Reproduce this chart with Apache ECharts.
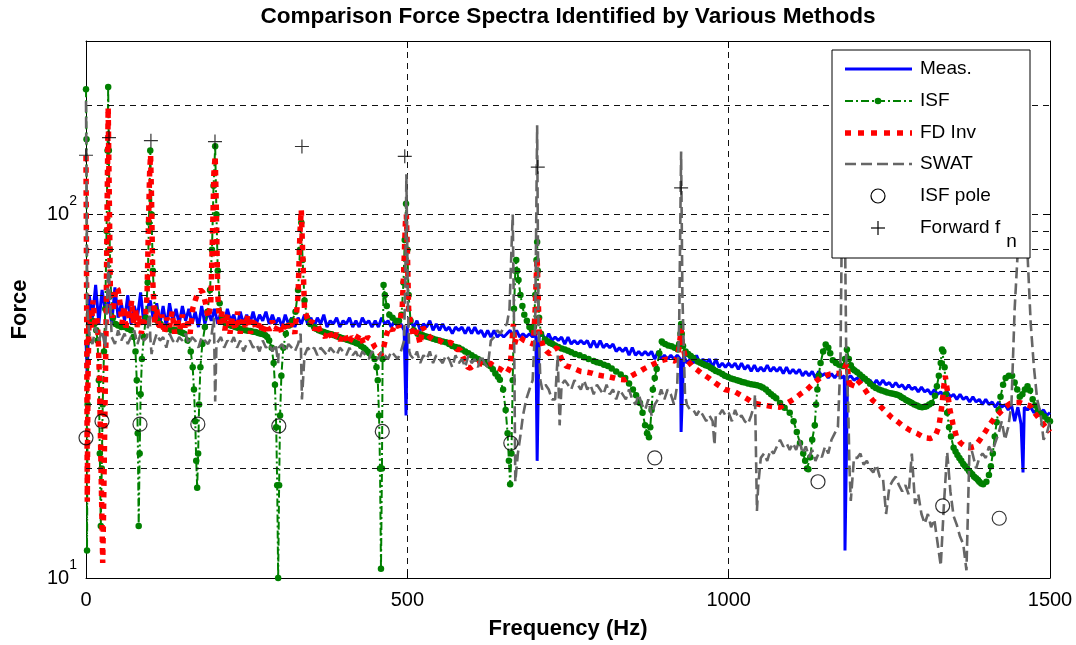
<!DOCTYPE html>
<html><head><meta charset="utf-8">
<script src="https://cdn.jsdelivr.net/npm/echarts@6/dist/echarts.min.js"></script>
<style>html,body{margin:0;padding:0;background:#fff}#c{width:1076px;height:645px}</style>
</head><body><div id="c"></div>
<script>
// ---------- data ----------
const chartTitle = 'Comparison Force Spectra Identified by Various Methods';
const xTicks = [0, 500, 1000, 1500];
const minorGridY = [20, 30, 40, 50, 60, 70, 80, 90, 200];
const freqStep = 5; // Hz spacing of the sampled spectra below

// Meas. (blue) sampled every 5 Hz from 0 to 1500
const measVals = [
  45, 60, 52, 64, 50, 62, 54, 58, 50, 63, 52, 57, 51, 60, 50, 56, 52, 61, 50, 55,
  58, 51, 57, 50, 56, 49, 57, 51, 55, 50, 56, 51, 55, 50, 54, 49, 56, 50, 54, 51,
  55, 50, 54, 50, 55, 51, 53, 49, 54, 50, 53, 50, 54, 50, 53, 51, 54, 50, 53, 50,
  52, 49, 53, 50, 52, 49, 52, 50, 53, 50, 52, 49, 52, 50, 53, 49, 51, 50, 52, 49,
  51, 50, 52, 49, 51, 49, 52, 50, 51, 49, 51, 49, 52, 50, 51, 49, 51, 49, 50, 48,
  49, 51, 49, 51, 48, 50, 49, 51, 48, 50, 48, 50, 48, 49, 47, 49, 48, 49, 47, 49,
  47, 49, 47, 48, 46, 48, 46, 48, 46, 47, 46, 47, 48, 46, 48, 46, 47, 46, 47, 46,
  47, 46, 47, 45, 47, 45, 46, 45, 46, 44, 46, 44, 45, 44, 45, 44, 45, 43, 45, 43,
  45, 43, 44, 43, 44, 42, 43, 42, 43, 41, 43, 41, 42, 41, 42, 41, 42, 40, 42, 40,
  41, 40, 41, 40, 41, 40, 41, 39, 40, 39, 41, 39, 40, 39, 40, 38, 40, 38, 39, 38,
  39, 38, 39, 37.5, 39, 37.5, 38.5, 37, 38.5, 37, 38, 37, 38.5, 37, 38, 37, 38, 36.5, 38, 36.5,
  37.5, 36.5, 37.5, 36, 37, 36, 37, 35.5, 37, 36, 36.5, 35.5, 36.5, 35.5, 36.5, 35.5, 36, 35.5, 36, 35,
  35.5, 34.5, 35.5, 34.5, 35, 34, 35, 34, 35, 34, 34.5, 33.5, 34.5, 33.5, 34, 33, 34, 33, 33.5, 32.5,
  33.5, 32.5, 33, 32, 33, 32, 32.5, 31.5, 32.5, 31.5, 32, 31, 32, 31, 31.5, 30.5, 31.5, 30.5, 31, 30,
  31, 30, 30.5, 29.5, 30.5, 29.5, 30, 29, 30, 27, 29.5, 26.5, 29.5, 29, 29.5, 28.5, 29, 28.5, 29, 28,
  28.5
];
const measDips = [[2, 36], [498, 28], [702, 21], [926, 25.2], [1181, 11.9], [1458, 19.5]];

// SWAT (gray) sampled every 5 Hz (null where the events list takes over)
const swatVals = [
  205, 47, 44, 49, 45, 48, 43, null, 46, 44, 48, 45, 47, 44, 46, 48, 44, 47, 45, 46,
  46, 44, 47, 45, 46, 43, 47, 45, 44, 46, 45, 47, 44, 46, 45, 43, 46, 45, 44, 46,
  null, 44, 46, 43, 45, 44, 46, 43, 45, 42, 44, 45, 43, 44, 42, 45, 43, 44, 42, 44,
  43, 44, 42, 44, 43, 42, 44, null, 41, 43, 42, 43, 41, 43, 42, 41, 43, 42, 41, 43,
  42, 41, 43, 41, 42, 40, 42, 41, 40, 42, 41, 40, 42, 41, 40, 42, 41, 40, 42, 45,
  null, 41, 40, 42, 39, 41, 40, 42, 39, 41, 40, 39, 41, 40, 38, 41, 39, 40, 38, 41,
  39, 40, 38, 41, 39, 38, 45, 46, 48, 47, 49, 50, null, null, null, null, null, 31, 33, 35,
  null, null, 33, 34, 33, 31, 31, null, 34, 35, 34, 33, 35, 34, 33, 35, 33, 34, 32, 34,
  33, 32, 34, 32, 33, 31, 33, 32, 31, 33, 31, 30, 32, 30, 29, 31, 28, 30, 31, 33,
  31, 33, 32, 30, 34, null, null, 30, 29, 29, 28, 29, 28, 27, 28, 27, 28, 28, 29, 28,
  28.5, 27, 29, 27.5, 28, 27, 26.5, 28, 30, null, 21.4, 22, 21, 22.5, 22, 23, 24, 23, 23.5, 22.5,
  23.5, 22.5, 24, 22, 23, 21.5, 22.5, 21, 22, 21.5, 23, 22, 24, 25, 26, null, null, null, 16.3, 21.4,
  21.4, 22, 20.5, 21, 20, 19.5, 20.5, 19, 18.9, 15, 17.8, 18.5, 19, 18, 17.3, 18, 17, 22, 16, 17,
  15, 14.1, 15, 13.8, 14.5, 12.5, 10.8, 16, 22.2, 17.3, 14.8, 14, 13, 12.4, 10.5, 23.6, 21.8, 20, 21.4, 22,
  21.4, 23, 22.2, 23.6, 25, 27, 24, 26, 30, 55, 80, 130, 130, 78, 50, 38, 31, 28.5, 24, 25,
  27
];
const swatEvents = [
  [1, 110], [2, 55], [35, 74], [99, 56], [102, 41.3], [199, 52], [201, 30.6], [203, 44],
  [299, 39], [334, 47], [336, 31], [497, 70], [498.5, 129], [501, 55], [503, 42],
  [659, 55], [662, 80], [664, 100], [666, 50], [668, 18.4], [672, 22], [676, 24.7], [680, 28],
  [699, 50], [702, 176], [704, 50], [707, 35], [734, 41], [737, 26.3],
  [923, 50], [926, 149], [928, 60], [932, 32], [978, 23.2],
  [1041, 32], [1044, 15.3], [1046, 18],
  [1174, 40], [1176, 90], [1178, 150], [1181, 90], [1183, 40], [1186, 30], [1188, 20]
];

// ISF (green) [Hz, force]
const isfData = [
  [0,221],[0.8,161],[1.6,11.9],[2.5,30],[4,45],[7,50],[10,51],[13,50],[16,48],[18,45],[20,35],[21.5,22],[23,13.9],
  [24.5,20],[26,30],[28,42],[30,55],[32,90],[33.5,150],[34.5,224],[35.5,150],[37,80],[39,60],[42,52],[46,50],
  [50,49.5],[55,49],[60,49],[65,48.5],[70,48],[74,46],[77,42],[79,35],[80.5,25],[82,13.9],[83.5,22],[85,32],
  [87,40],[90,46],[93,52],[96,65],[98,95],[100,150],[102,100],[104,70],[107,55],[111,51],[116,50],[121,49],
  [127,48.5],[133,48],[136,48.2],[140,48],[143,47.8],[147,47.5],[150,47.3],[153,47],[158,45],[163,42],[166,38],
  [168,33],[170,27],[171.5,21],[173,17.7],[174.5,22],[176,30],[178,38],[181,44],[185,49],[189,54],[193,62],
  [196,80],[198.5,120],[201,154],[203,100],[205,70],[208,57],[212,52],[215,51],[218,50],[221,49.8],[225,49.5],
  [228,49.3],[232,49],[236,48.8],[240,48.5],[244,48.3],[248,48],[252,47.9],[256,47.8],[260,47.6],[264,47.5],
  [268,47.2],[272,47],[276,46.8],[279,46.5],[282,46],[285,45],[289,43],[292,39],[294,34],[296,26],[297.5,18],
  [299,10],[300.5,18],[302,28],[304,36],[307,43],[311,47],[316,49.5],[321,51],[326,54],[330,62],[333,80],
  [335,95],[337,75],[340,58],[344,52],[349,50],[355,49],[358,48.5],[362,48],[366,47.7],[370,47.5],[374,47.2],
  [378,47],[382,46.8],[386,46.5],[390,46.2],[394,46],[398,45.7],[402,45.5],[406,45.2],[410,45],[414,44.7],
  [418,44.5],[421,44.2],[425,44],[428,43.5],[432,43],[435,42.5],[438,42],[441,41.5],[444,41],[449,40],[452,38],
  [454,35],[456,28],[457.5,20],[459,10.6],[460.5,20],[461.5,40],[463,64],[465,60],[468,56],[472,53],[477,52],
  [482,51],[487,51],[491,53],[494,65],[496,85],[498,107],[500,80],[502,60],[505,51],[510,48],[516,47],[520,46.8],
  [524,46.5],[528,46.2],[532,46],[536,45.8],[540,45.5],[545,45.2],[550,45],[555,44.7],[560,44.5],[565,44],
  [570,43.5],[575,43.2],[580,43],[585,42.5],[590,42],[595,41.5],[600,41],[605,40.5],[610,40],[615,39.6],
  [620,39.2],[625,38.8],[629,38.3],[633,37.5],[637,36.5],[641,35.8],[644,35.1],[649,33],[653,29],[656,25],
  [658,21],[660,18.1],[662,22],[664,35],[666,55],[668,70],[669.5,75],[671,70],[673,66],[676,60],[679,56],
  [682,53],[686,51],[690,49],[694,48],[697,49],[699,60],[701,75],[702,84],[703,70],[705,52],[708,47],[714,45.3],
  [718,44.8],[722,44.3],[726,44],[730,43.6],[735,43.2],[740,42.8],[745,42.5],[750,42.2],[755,41.8],[761,41.3],
  [768,41],[775,40.5],[782,40],[790,39.5],[795,39.2],[800,39],[806,38.6],[812,38.3],[818,37.7],[825,37],
  [832,36.3],[839,35.5],[845,34.3],[851,33],[856,31.8],[862,30.3],[866,28.5],[870,26.3],[873,25],[876,24.4],
  [878,26],[880,29],[882,33],[885,35.5],[888,37.6],[892,41.5],[896,44.7],[901,44],[906,43.6],[911,43.4],
  [916,43],[921,42.5],[923,44],[925,47],[926,50],[927,47],[929,43.5],[933,42],[937,41.3],[941,40.8],[945,40.3],
  [952,39.4],[956,39.1],[960,38.8],[964,38.5],[968,38.3],[972,37.9],[976,37.5],[980,37.1],[985,36.8],[990,36.4],
  [994,36],[999,35.7],[1004,35.4],[1008,35.2],[1013,35],[1017,34.8],[1021,34.6],[1025,34.5],[1030,34.3],
  [1035,34.1],[1040,34],[1044,33.9],[1049,33.7],[1053,33.4],[1058,33],[1062,32.5],[1066,32],[1070,31.6],
  [1074,31.2],[1080,30.3],[1087,29.4],[1095,28.5],[1101,27],[1106,25.2],[1111,23.5],[1116,22],[1119,21],
  [1122,20],[1124,19.9],[1127,21.5],[1130,24],[1134,26.3],[1136,30],[1138,33],[1140,36],[1143,39],[1147,42],
  [1151,43.9],[1155,43],[1158,41.5],[1162,39.7],[1167,39],[1172,38.6],[1178,38.3],[1181,40],[1184,42.5],
  [1187,40],[1190,38.5],[1193,37.6],[1196,37.2],[1200,36.8],[1204,36.3],[1208,35.8],[1212,35.3],[1216,34.8],
  [1220,34.2],[1225,33.7],[1229,33.3],[1234,33],[1238,32.8],[1243,32.6],[1247,32.4],[1252,32.2],[1256,32.1],
  [1259,32],[1262,31.9],[1266,31.7],[1269,31.4],[1272,31.2],[1276,30.9],[1279,30.7],[1282,30.5],[1285,30.3],
  [1289,30],[1293,29.8],[1297,29.6],[1301,29.5],[1305,29.6],[1308,29.7],[1312,30],[1316,30.3],[1321,31.7],
  [1324,33.7],[1327,36],[1330,39],[1332,42.5],[1334,42],[1336,38],[1338,32],[1340,28.5],[1343,26],[1346,24.5],
  [1350,22.8],[1353,22.3],[1356,21.8],[1359,21.4],[1362,21],[1365,20.6],[1368,20.3],[1371,20],[1374,19.7],
  [1376,19.5],[1379,19.3],[1382,19],[1385,18.8],[1388,18.6],[1390,18.4],[1393,18.2],[1396,18.1],[1401,18.4],
  [1405,19.2],[1408,20.3],[1411,22],[1414,24.5],[1417,26.8],[1420,29],[1423,31.5],[1427,34],[1431,35.5],
  [1436,36],[1441,36],[1445,34.5],[1449,33],[1453,31.5],[1457,32],[1461,33],[1465,33.7],[1469,32.8],[1473,31],
  [1477,29.8],[1481,28.9],[1486,28.3],[1491,27.8],[1496,27.3],[1500,27]
];

// FD Inv (red) [Hz, force]
const fdInvData = [
  [0,145],[1,60],[2,16.2],[3,35],[5,55],[8,48],[11,58],[14,50],[17,52],[19,46],[21,35],[23,22],[25,14],[26,11],
  [27,14],[29,25],[31,45],[33,110],[34.5,197],[36,120],[38,60],[41,52],[44,58],[47,63],[50,62],[53,57],[56,50],
  [59,56],[62,48],[65,55],[68,51],[71,58],[74,50],[77,55],[80,49],[83,53],[86,47],[89,52],[92,50],[95,60],
  [97,90],[99,130],[100.5,146],[102,110],[104,65],[107,50],[110,55],[114,48],[118,53],[122,47],[126,52],
  [130,49],[134,54],[138,47],[142,52],[146,48],[150,53],[154,49],[158,51],[162,47],[166,55],[170,58],[174,61],
  [178,62],[182,61],[186,57],[190,52],[194,56],[197,90],[199,130],[201,145],[203,100],[205,60],[208,50],
  [212,54],[216,48],[220,53],[224,47],[228,52],[232,48],[236,54],[240,47],[244,52],[248,49],[252,53],[256,47],
  [260,52],[265,48],[270,51],[275,47],[280,50],[285,48],[290,51],[295,48],[300,50],[305,47],[310,51],[315,48],
  [320,50],[325,47],[330,60],[333,90],[335,103],[337,80],[340,55],[344,52],[348,50],[352,51],[356,48],[360,50],
  [366,47],[372,46],[378,48],[384,45],[390,47],[396,45],[402,47],[408,44],[414,46],[420,45],[426,47],[432,44],
  [438,46],[444,45],[450,43],[455,42],[459,41],[463,43],[468,47],[472,49],[477,48],[482,50],[487,49],[492,55],
  [495,75],[497,95],[498.5,100],[500,80],[502,55],[505,50],[510,46],[515,48],[520,44],[524,49],[530,47],
  [535,46],[542,45],[550,45],[558,44],[566,44.5],[572,44],[577,42.5],[582,42.5],[588,40],[594,38],[598,37.8],
  [604,38.5],[612,39],[620,38.5],[629,39],[637,38],[644,37.6],[650,37],[655,36.6],[660,38],[663,45],[665,50],
  [667,44],[670,46],[675,46],[682,45],[689,44.5],[696,44],[699,55],[701,70],[702,76],[703,65],[705,48],
  [711,43.4],[717,42],[722,41.3],[728,42.5],[733,43],[740,40],[747,38.3],[754,38],[761,37.6],[770,37],
  [780,36.8],[787,36.6],[795,36.2],[803,36],[813,35.8],[822,35.5],[830,35.2],[839,35.1],[847,35.8],[855,36.5],
  [862,37],[868,37.6],[877,38.3],[886,39],[895,39.6],[904,40],[911,39.8],[917,39.5],[921,41],[924,45],
  [926,48.5],[928,44],[932,40.8],[937,39.5],[943,38.3],[950,37.5],[958,36.5],[969,35.5],[980,34.3],[994,33],
  [1010,32.5],[1021,31.7],[1030,31],[1038,30.3],[1049,30],[1059,29.8],[1070,29.6],[1080,29.5],[1090,30.2],
  [1101,31],[1111,32],[1122,33],[1132,34.3],[1142,35.5],[1150,36],[1158,36.4],[1168,36.5],[1178,36.6],
  [1181,38],[1184,39],[1187,35],[1189,33],[1193,34.5],[1199,35.2],[1205,34.3],[1212,33],[1218,31.8],
  [1225,30.7],[1235,29.8],[1246,28.5],[1254,27.6],[1262,27],[1270,26.3],[1282,25.5],[1293,25],[1305,24.3],
  [1314,24.2],[1321,24.5],[1327,26],[1332,30],[1335,34],[1337,36],[1340,33],[1344,29.2],[1349,26.5],
  [1355,24.3],[1361,23.5],[1368,23],[1375,22.8],[1383,23],[1391,24],[1399,25.2],[1406,26.4],[1414,27.6],
  [1422,28.5],[1430,29.5],[1438,30.2],[1446,30.4],[1453,30.4],[1461,30],[1469,29.8],[1476,28.5],[1484,27.3],
  [1492,26.2],[1500,25.2]
];

// markers
const isfPoles = [[0,24.3],[24.9,27],[84,26.5],[174,26.5],[300,26.2],[461,25.3],[661,23.5],[885,21.4],[1139,18.4],[1333,15.8],[1421,14.6]];
const forwardFn = [[0,145.5],[35.8,162.7],[101,159.6],[200.7,158.7],[336,153.8],[496,144.5],[703,135],[926,118.4]];

const legendNames = ['Meas.', 'ISF', 'FD Inv', 'SWAT', 'ISF pole', 'Forward f'];

// ---------- build ----------
function merge(vals, events) {
  const pts = [];
  vals.forEach((v, i) => { if (v !== null) pts.push([i * freqStep, v]); });
  events.forEach(p => pts.push(p));
  pts.sort((a, b) => a[0] - b[0]);
  return pts;
}
const FONT = "'Liberation Sans', Arial, Helvetica, sans-serif";
const measData = merge(measVals, measDips);
const swatData = merge(swatVals, swatEvents);
const isfSorted = isfData.slice().sort((a, b) => a[0] - b[0]);

const chart = echarts.init(document.getElementById('c'), null, {renderer: 'canvas'});

const axisCommonX = {
  type: 'value', min: 0, max: 1500, interval: 500,
  axisLine: {show: true, onZero: false, lineStyle: {color: '#000', width: 1}},
  axisTick: {show: true, inside: true, length: 7, lineStyle: {color: '#000'}}
};
const axisCommonY = {
  type: 'log', logBase: 10, min: 10, max: 300,
  axisLine: {show: true, onZero: false, lineStyle: {color: '#000', width: 1}},
  axisTick: {show: true, inside: true, length: 7, lineStyle: {color: '#000'}}
};
const gridDash = {color: '#111', width: 1, type: [6, 5]};

function yLabel(v) {
  const e = Math.round(Math.log10(v) * 1000) / 1000;
  if (Math.abs(e - Math.round(e)) < 1e-6) return '{b|10}{s|' + Math.round(e) + '}';
  return '';
}

const legendY = [69, 101, 133, 164, 196, 228];
const LX1 = 845, LX2 = 912, LTX = 920, LCX = 878;

const option = {
  animation: false,
  backgroundColor: '#fff',
  title: {
    text: chartTitle, left: 568, top: 5, textAlign: 'center', padding: 0,
    textStyle: {fontSize: 22.6, fontWeight: 'bold', color: '#000', fontFamily: FONT}
  },
  grid: {left: 86, right: 26, top: 41, bottom: 60, containLabel: false},
  xAxis: [
    Object.assign({}, axisCommonX, {
      position: 'bottom',
      axisLabel: {color: '#000', fontSize: 20, fontFamily: FONT, margin: 12,
        formatter: v => (xTicks.indexOf(v) >= 0 ? String(v) : '')},
      splitLine: {show: true, lineStyle: gridDash},
      name: 'Frequency (Hz)', nameLocation: 'middle', nameGap: 40,
      nameTextStyle: {fontSize: 22, fontWeight: 'bold', color: '#000', fontFamily: FONT}
    }),
    Object.assign({}, axisCommonX, {position: 'top', axisLabel: {show: false}, splitLine: {show: false}})
  ],
  yAxis: [
    Object.assign({}, axisCommonY, {
      position: 'left',
      axisLabel: {
        margin: 9, formatter: yLabel, color: '#000',
        rich: {
          b: {fontSize: 20, fontFamily: FONT, color: '#000'},
          s: {fontSize: 14, fontFamily: FONT, color: '#000', padding: [0, 0, 26, 0]}
        }
      },
      splitLine: {show: true, lineStyle: gridDash},
      name: 'Force', nameLocation: 'middle', nameGap: 55, nameRotate: 90,
      nameTextStyle: {fontSize: 22, fontWeight: 'bold', color: '#000', fontFamily: FONT}
    }),
    Object.assign({}, axisCommonY, {position: 'right', axisLabel: {show: false}, splitLine: {show: false}})
  ],
  series: [
    {
      name: 'grid', type: 'line', data: [], z: 1, silent: true, symbol: 'none',
      markLine: {
        silent: true, symbol: ['none', 'none'], label: {show: false}, animation: false,
        lineStyle: gridDash, emphasis: {disabled: true},
        data: minorGridY.map(v => ({yAxis: v}))
      }
    },
    {
      name: legendNames[0], type: 'line', data: measData, z: 2, symbol: 'none', silent: true,
      lineStyle: {color: '#0000ff', width: 3}, itemStyle: {color: '#0000ff'}
    },
    {
      name: legendNames[1], type: 'line', data: isfSorted, z: 3, symbol: 'circle', symbolSize: 6.5,
      showSymbol: true, silent: true,
      lineStyle: {color: '#008000', width: 2, type: [8, 3, 2, 3]}, itemStyle: {color: '#008000'}
    },
    {
      name: legendNames[2], type: 'line', data: fdInvData, z: 4, symbol: 'none', silent: true,
      lineStyle: {color: '#ff0000', width: 5.5, type: [5.5, 6], cap: 'butt'}, itemStyle: {color: '#ff0000'}
    },
    {
      name: legendNames[3], type: 'line', data: swatData, z: 5, symbol: 'none', silent: true,
      lineStyle: {color: '#666666', width: 2.6, type: [11, 5]}, itemStyle: {color: '#666666'}
    },
    {
      name: legendNames[4], type: 'scatter', data: isfPoles, z: 6, symbol: 'circle', symbolSize: 14, silent: true,
      itemStyle: {color: 'rgba(0,0,0,0)', borderColor: '#000', borderWidth: 1.2}
    },
    {
      name: legendNames[5], type: 'scatter', data: forwardFn, z: 7, symbol: 'path://M0,6L12,6M6,0L6,12',
      symbolSize: 14, silent: true,
      itemStyle: {color: 'none', borderColor: '#000', borderWidth: 1.2}
    }
  ],
  graphic: {
    elements: [
      {type: 'rect', z: 100, shape: {x: 832, y: 50, width: 198, height: 208}, style: {fill: '#fff', stroke: '#000', lineWidth: 1}},
      {type: 'line', z: 101, shape: {x1: LX1, y1: legendY[0], x2: LX2, y2: legendY[0]}, style: {stroke: '#0000ff', lineWidth: 3}},
      {type: 'line', z: 101, shape: {x1: LX1, y1: legendY[1], x2: LX2, y2: legendY[1]}, style: {stroke: '#008000', lineWidth: 2, lineDash: [8, 3, 2, 3]}},
      {type: 'circle', z: 102, shape: {cx: LCX, cy: legendY[1], r: 3.3}, style: {fill: '#008000'}},
      {type: 'line', z: 101, shape: {x1: LX1, y1: legendY[2], x2: LX2, y2: legendY[2]}, style: {stroke: '#ff0000', lineWidth: 5.5, lineDash: [6, 7]}},
      {type: 'line', z: 101, shape: {x1: LX1, y1: legendY[3], x2: LX2, y2: legendY[3]}, style: {stroke: '#666666', lineWidth: 2.6, lineDash: [11, 5]}},
      {type: 'circle', z: 101, shape: {cx: LCX, cy: legendY[4], r: 7}, style: {fill: 'none', stroke: '#000', lineWidth: 1.2}},
      {type: 'line', z: 101, shape: {x1: LCX - 7, y1: legendY[5], x2: LCX + 7, y2: legendY[5]}, style: {stroke: '#000', lineWidth: 1.2}},
      {type: 'line', z: 101, shape: {x1: LCX, y1: legendY[5] - 7, x2: LCX, y2: legendY[5] + 7}, style: {stroke: '#000', lineWidth: 1.2}},
      ...legendNames.slice(0, 5).map((t, i) => ({
        type: 'text', z: 101, x: LTX, y: legendY[i],
        style: {text: t, fill: '#000', font: '19px ' + FONT, verticalAlign: 'middle', align: 'left'}
      })),
      {
        type: 'text', z: 101, x: LTX, y: legendY[5],
        style: {
          text: '{a|' + legendNames[5] + '}{n|n}', verticalAlign: 'middle', align: 'left',
          rich: {
            a: {fontSize: 19, fontFamily: FONT, fill: '#000', color: '#000'},
            n: {fontSize: 19, fontFamily: FONT, fill: '#000', color: '#000', padding: [28, 0, 0, 6]}
          }
        }
      }
    ]
  }
};
chart.setOption(option);
</script></body></html>
